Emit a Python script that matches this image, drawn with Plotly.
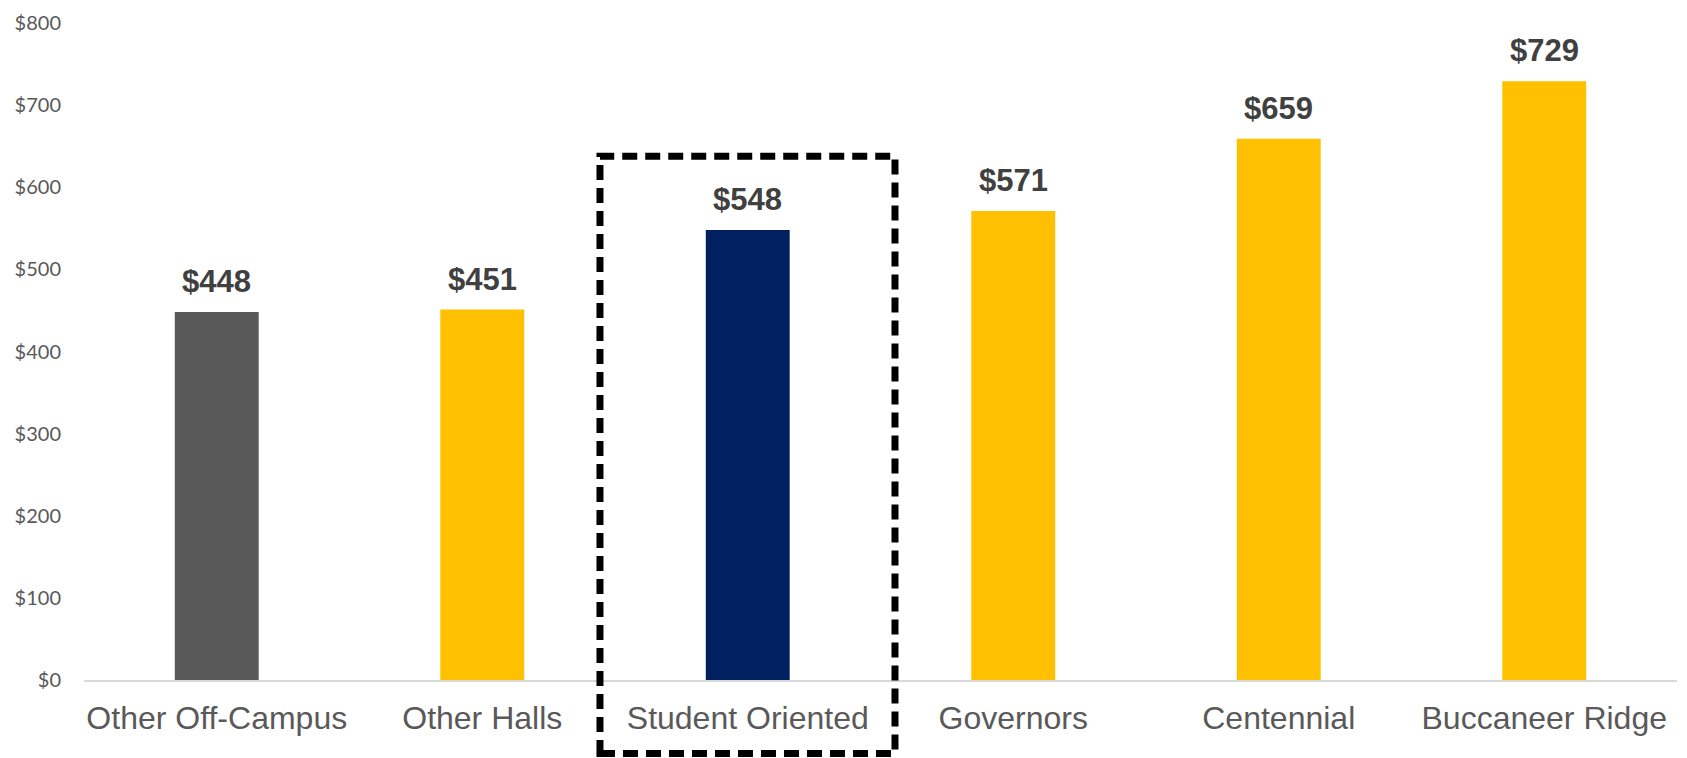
import plotly.graph_objects as go

categories = ["Other Off-Campus", "Other Halls", "Student Oriented", "Governors", "Centennial", "Buccaneer Ridge"]
values = [448, 451, 548, 571, 659, 729]
bar_colors = ["#595959", "#FFC000", "#002060", "#FFC000", "#FFC000", "#FFC000"]
tick_vals = [0, 100, 200, 300, 400, 500, 600, 700, 800]
tick_text = ["$" + str(v) for v in tick_vals]
labels = ["$" + str(v) for v in values]

fig = go.Figure()
fig.add_trace(go.Bar(
    x=categories, y=values,
    marker=dict(color=bar_colors, line=dict(width=0)),
    width=0.316,
    hoverinfo="skip",
))

for c, v, t in zip(categories, values, labels):
    fig.add_annotation(
        x=c, y=v, text="<b>" + t + "</b>", showarrow=False,
        yanchor="bottom", yshift=11,
        font=dict(family="Liberation Sans, Arial", size=31, color="#404040"),
    )

# dashed highlight box around "Student Oriented"
fig.add_shape(
    type="rect", xref="paper", yref="paper",
    x0=0.3239, x1=0.5091, y0=-0.112, y1=0.797,
    line=dict(color="black", width=7, dash="15px,8px"),
    fillcolor="rgba(0,0,0,0)", layer="above",
)

fig.update_layout(
    width=1687, height=758,
    margin=dict(l=84, r=10, t=20, b=78),
    plot_bgcolor="white", paper_bgcolor="white",
    showlegend=False,
    xaxis=dict(
        showgrid=False, showline=True, linecolor="#D9D9D9", linewidth=2,
        ticks="", tickfont=dict(family="Liberation Sans, Arial", size=32, color="#595959"),
        ticklabelstandoff=9,
    ),
    yaxis=dict(
        range=[0, 800], tickvals=tick_vals, ticktext=tick_text,
        showgrid=False, zeroline=False, showline=False, ticks="",
        tickfont=dict(family="Lato, Carlito, Calibri", size=20, color="#595959"),
        ticklabelstandoff=22,
    ),
)

fig.write_html("out.html")
